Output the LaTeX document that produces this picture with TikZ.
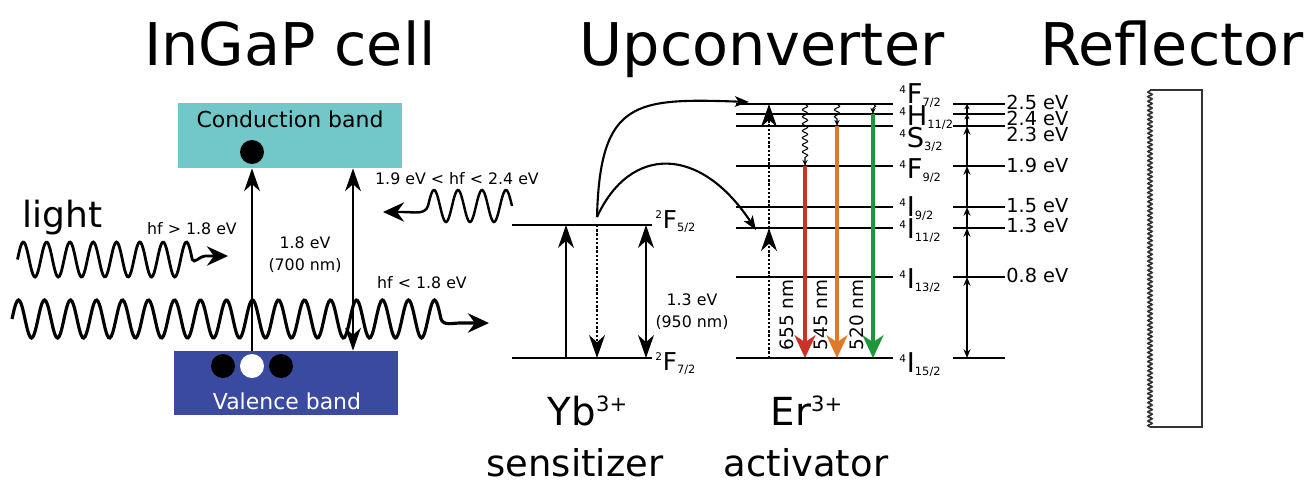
\documentclass[tikz,border=0pt]{standalone}
\usepackage{fontspec}
\setmainfont{DejaVu Sans}
\usetikzlibrary{arrows.meta,positioning,decorations.pathmorphing}

\definecolor{condcol}{RGB}{114,200,200}
\definecolor{valcol}{RGB}{58,74,160}
\definecolor{redem}{RGB}{200,50,40}
\definecolor{orangeem}{RGB}{225,122,40}
\definecolor{greenem}{RGB}{30,150,60}

\newcommand{\fsz}[1]{\fontsize{#1}{#1}\selectfont}
\newcommand{\spec}[3]{\textsuperscript{\fsz{6pt}#1}#2\textsubscript{\fsz{6.5pt}#3}}

\begin{document}
\begin{tikzpicture}[x=0.02cm,y=-0.02cm,
  title/.style={font=\fsz{33.5pt},inner sep=0pt,anchor=base},
  note/.style={font=\fsz{9pt},inner sep=0pt},
  termlab/.style={font=\fsz{15.5pt},inner sep=0pt,anchor=base west},
  evlabel/.style={font=\fsz{11pt},inner sep=0pt,anchor=base west},
  ion/.style={font=\fsz{21pt},inner sep=0pt,anchor=base},
  band/.style={inner sep=0pt,minimum width=4.48cm,minimum height=1.3cm},
  carrier/.style={circle,fill=black,inner sep=0pt,minimum size=0.48cm},
  level/.style={line width=1.1pt},
  pump/.style={line width=1.1pt,-{Stealth[length=13pt,width=9pt,inset=4pt]}},
  bandgap/.style={line width=1.1pt,{Stealth[length=13pt,width=9pt,inset=4pt]}-{Stealth[length=13pt,width=9pt,inset=4pt]}},
  dotarrow/.style={line width=1.3pt,dash pattern=on 1.4pt off 1pt,-{Stealth[length=13pt,width=9pt,inset=4pt]}},
  transfer/.style={line width=1.2pt,-{Stealth[length=8pt,width=6pt,inset=2pt]}},
  photon/.style={line width=1.6pt,-{Stealth[length=12pt,width=11pt,inset=4pt]}},
  nonrad/.style={line width=0.6pt,decorate,decoration={snake,amplitude=1.5pt,segment length=4pt,post length=3pt},-{Stealth[length=3.5pt,width=3pt]}},
  emit/.style={line width=1.8pt,-{Stealth[length=13pt,width=12pt,inset=4pt]}},
  ladder/.style={line width=0.8pt,-{Stealth[length=5pt,width=4pt]}},
  nmlabel/.style={font=\fsz{10.5pt},inner sep=0pt,rotate=90},
  reflwall/.style={line width=1.5pt,black!80}
]
\useasboundingbox (0,0) rectangle (1311,484);

% titles
\node[title] (tcell) at (290,65) {InGaP cell};
\node[title] (tup) at (762,65) {Upconverter};
\node[title] (trefl) at (1172,65) {Reflector};

% InGaP cell
\node[band,fill=condcol] (cb) at (290,135.5) {};
\node[band,fill=valcol,minimum height=1.28cm] (vb) at (286,383) {};
\node[font=\fsz{12.5pt},inner sep=0pt] (cbtext) at (290,119) {Conduction band};
\node[font=\fsz{12.5pt},inner sep=0pt,text=white] (vbtext) at (287,401) {Valence band};
\node[carrier] (el) at (252,152) {};
\node[carrier] (h1) at (223,366) {};
\node[carrier,fill=white] (h2) at (252,366) {};
\node[carrier] (h3) at (281,366) {};
\coordinate (gapx) at (353,0);
\draw[pump] (vb.north -| el) -- (cb.south -| el);
\draw[bandgap] (vb.north -| gapx) -- (cb.south -| gapx);
\node[note] (eg) at (305,243) {1.8 eV};
\node[note,below=5pt of eg] (egnm) {(700 nm)};

% light
\node[font=\fsz{20.5pt},inner sep=0pt,anchor=base west] (light) at (22,227) {light};
\coordinate (w1a) at (17.5,259.5);
\coordinate (w1b) at (205,256);
\coordinate (w1tip) at (228,256);
\draw[photon,shift={(w1a)}] plot[domain=0:174.75,samples=160,smooth] (\x,{-17.5*sin(\x/23.3*360)})
  to[out=-70,in=180] (w1b) -- (w1tip);
\node[note] (hfhigh) at (192,229) {hf > 1.8 eV};
\coordinate (w2a) at (12,319);
\coordinate (w2b) at (460,323);
\coordinate (w2tip) at (489,323);
\draw[photon,line width=1.8pt,shift={(w2a)}] plot[domain=0:429,samples=330,smooth] (\x,{-19*sin(\x/26*360)})
  to[out=-70,in=180] (w2b) -- (w2tip);
\node[note] (hflow) at (422,283) {hf < 1.8 eV};
\coordinate (w3a) at (512,206);
\coordinate (w3b) at (404,212);
\coordinate (w3tip) at (383,212);
\draw[photon,line width=1.4pt,shift={(w3a)}] plot[domain=0:84,samples=80,smooth] (-\x,{-16*sin(\x/24*360)})
  to[out=-110,in=0] (w3b) -- (w3tip);
\node[note] (hfmid) at (457,179) {1.9 eV < hf < 2.4 eV};

% Yb3+ sensitizer
\coordinate (y5a) at (512,225); \coordinate (y5b) at (652,225);
\coordinate (y7a) at (512,358); \coordinate (y7b) at (652,358);
\draw[level] (y5a) -- (y5b);
\draw[level] (y7a) -- (y7b);
\node[termlab,font=\fsz{14pt}] (ly5) at (655,228) {\spec{2}{F}{5/2}};
\node[termlab,font=\fsz{14pt}] (ly7) at (655,370) {\spec{2}{F}{7/2}};
\coordinate (ybup) at (566,0);
\coordinate (ybdn) at (597,0);
\coordinate (ybgap) at (646,0);
\draw[pump] (ybup |- y7a) -- (ybup |- y5a);
\draw[dotarrow] (ybdn |- y5a) -- (ybdn |- y7a);
\draw[bandgap] (ybgap |- y5a) -- (ybgap |- y7a);
\node[note] (ybE) at (692,300) {1.3 eV};
\node[note,below=5pt of ybE] (ybnm) {(950 nm)};

% Er3+ activator
\foreach \nm/\yy in {eF7/104,eH11/114,eS3/126,eF9/166,eI9/207,eI11/228,eI13/277,eI15/358}{
  \coordinate (\nm) at (736,\yy);
  \draw[level] (\nm) -- (893,\yy);
  \draw[level] (953,\yy) -- (1005,\yy);
}
\node[termlab] (lF7) at (899,103) {\spec{4}{F}{7/2}};
\node[termlab] (lH11) at (899,125) {\spec{4}{H}{11/2}};
\node[termlab] (lS3) at (899,147) {\spec{4}{S}{3/2}};
\node[termlab] (lF9) at (899,178) {\spec{4}{F}{9/2}};
\node[termlab] (lI9) at (899,216) {\spec{4}{I}{9/2}};
\node[termlab] (lI11) at (899,238) {\spec{4}{I}{11/2}};
\node[termlab] (lI13) at (899,288) {\spec{4}{I}{13/2}};
\node[termlab] (lI15) at (899,372) {\spec{4}{I}{15/2}};

% energy transfer
\coordinate (ets) at (597,217);
\coordinate (etA) at (749,102);
\coordinate (etB) at (756,230);
\draw[transfer] (ets) .. controls (600,100) and (635,98) .. (etA);
\draw[transfer] (ets) .. controls (630,145) and (700,145) .. (etB);

% transitions
\coordinate (gsa) at (769,0);
\coordinate (redx) at (805,0);
\coordinate (orx) at (837,0);
\coordinate (grx) at (873,0);
\draw[dotarrow] (gsa |- eI15) -- (gsa |- eI11);
\draw[dotarrow] (gsa |- eI11) -- (gsa |- eF7);
\draw[nonrad] (redx |- eF7) -- (redx |- eF9);
\draw[nonrad] (orx |- eF7) -- (orx |- eS3);
\draw[nonrad] (grx |- eF7) -- (grx |- eH11);
\draw[emit,redem] (redx |- eF9) -- (redx |- eI15);
\draw[emit,orangeem] (orx |- eS3) -- (orx |- eI15);
\draw[emit,greenem] (grx |- eH11) -- (grx |- eI15);
\node[nmlabel] (n655) at (787,315) {655 nm};
\node[nmlabel] (n545) at (821,315) {545 nm};
\node[nmlabel] (n520) at (857,315) {520 nm};

% energy ladder
\foreach \val/\yy [count=\i] in {2.5/109,2.4/125,2.3/141,1.9/172,1.5/212,1.3/232,0.8/282}
  \node[evlabel] (ev\i) at (1006,\yy) {\val\ eV};
\coordinate (lad) at (967,0);
\draw[ladder,{Stealth[length=5pt,width=4pt]}-{Stealth[length=5pt,width=4pt]}] (lad |- eI15) -- (lad |- eI13);
\foreach \a/\b in {eI13/eI11,eI11/eI9,eI9/eF9,eF9/eS3}
  \draw[ladder] (lad |- \a) -- (lad |- \b);
\draw[ladder,-{Stealth[length=3pt,width=3pt]}] (lad |- eS3) -- (lad |- eH11);
\draw[ladder,-{Stealth[length=3pt,width=3pt]}] (lad |- eH11) -- (lad |- eF7);

% ion names
\node[ion,font=\fsz{22pt}] (yb) at (588,425) {Yb\textsuperscript{\fsz{12pt}3+}};
\node[ion,font=\fsz{22pt}] (er) at (807,425) {Er\textsuperscript{\fsz{12pt}3+}};
\node[ion] (sens) at (575,476) {sensitizer};
\node[ion] (act) at (806,476) {activator};

% reflector
\coordinate (rTL) at (1150,90); \coordinate (rTR) at (1202,90);
\coordinate (rBR) at (1202,427); \coordinate (rBL) at (1150,427);
\draw[reflwall] (rTL) -- (rTR) -- (rBR) -- (rBL);
\draw[reflwall,line width=0.9pt,decorate,decoration={snake,amplitude=1.2pt,segment length=2.6pt}] (rBL) -- (rTL);
\end{tikzpicture}
\end{document}
